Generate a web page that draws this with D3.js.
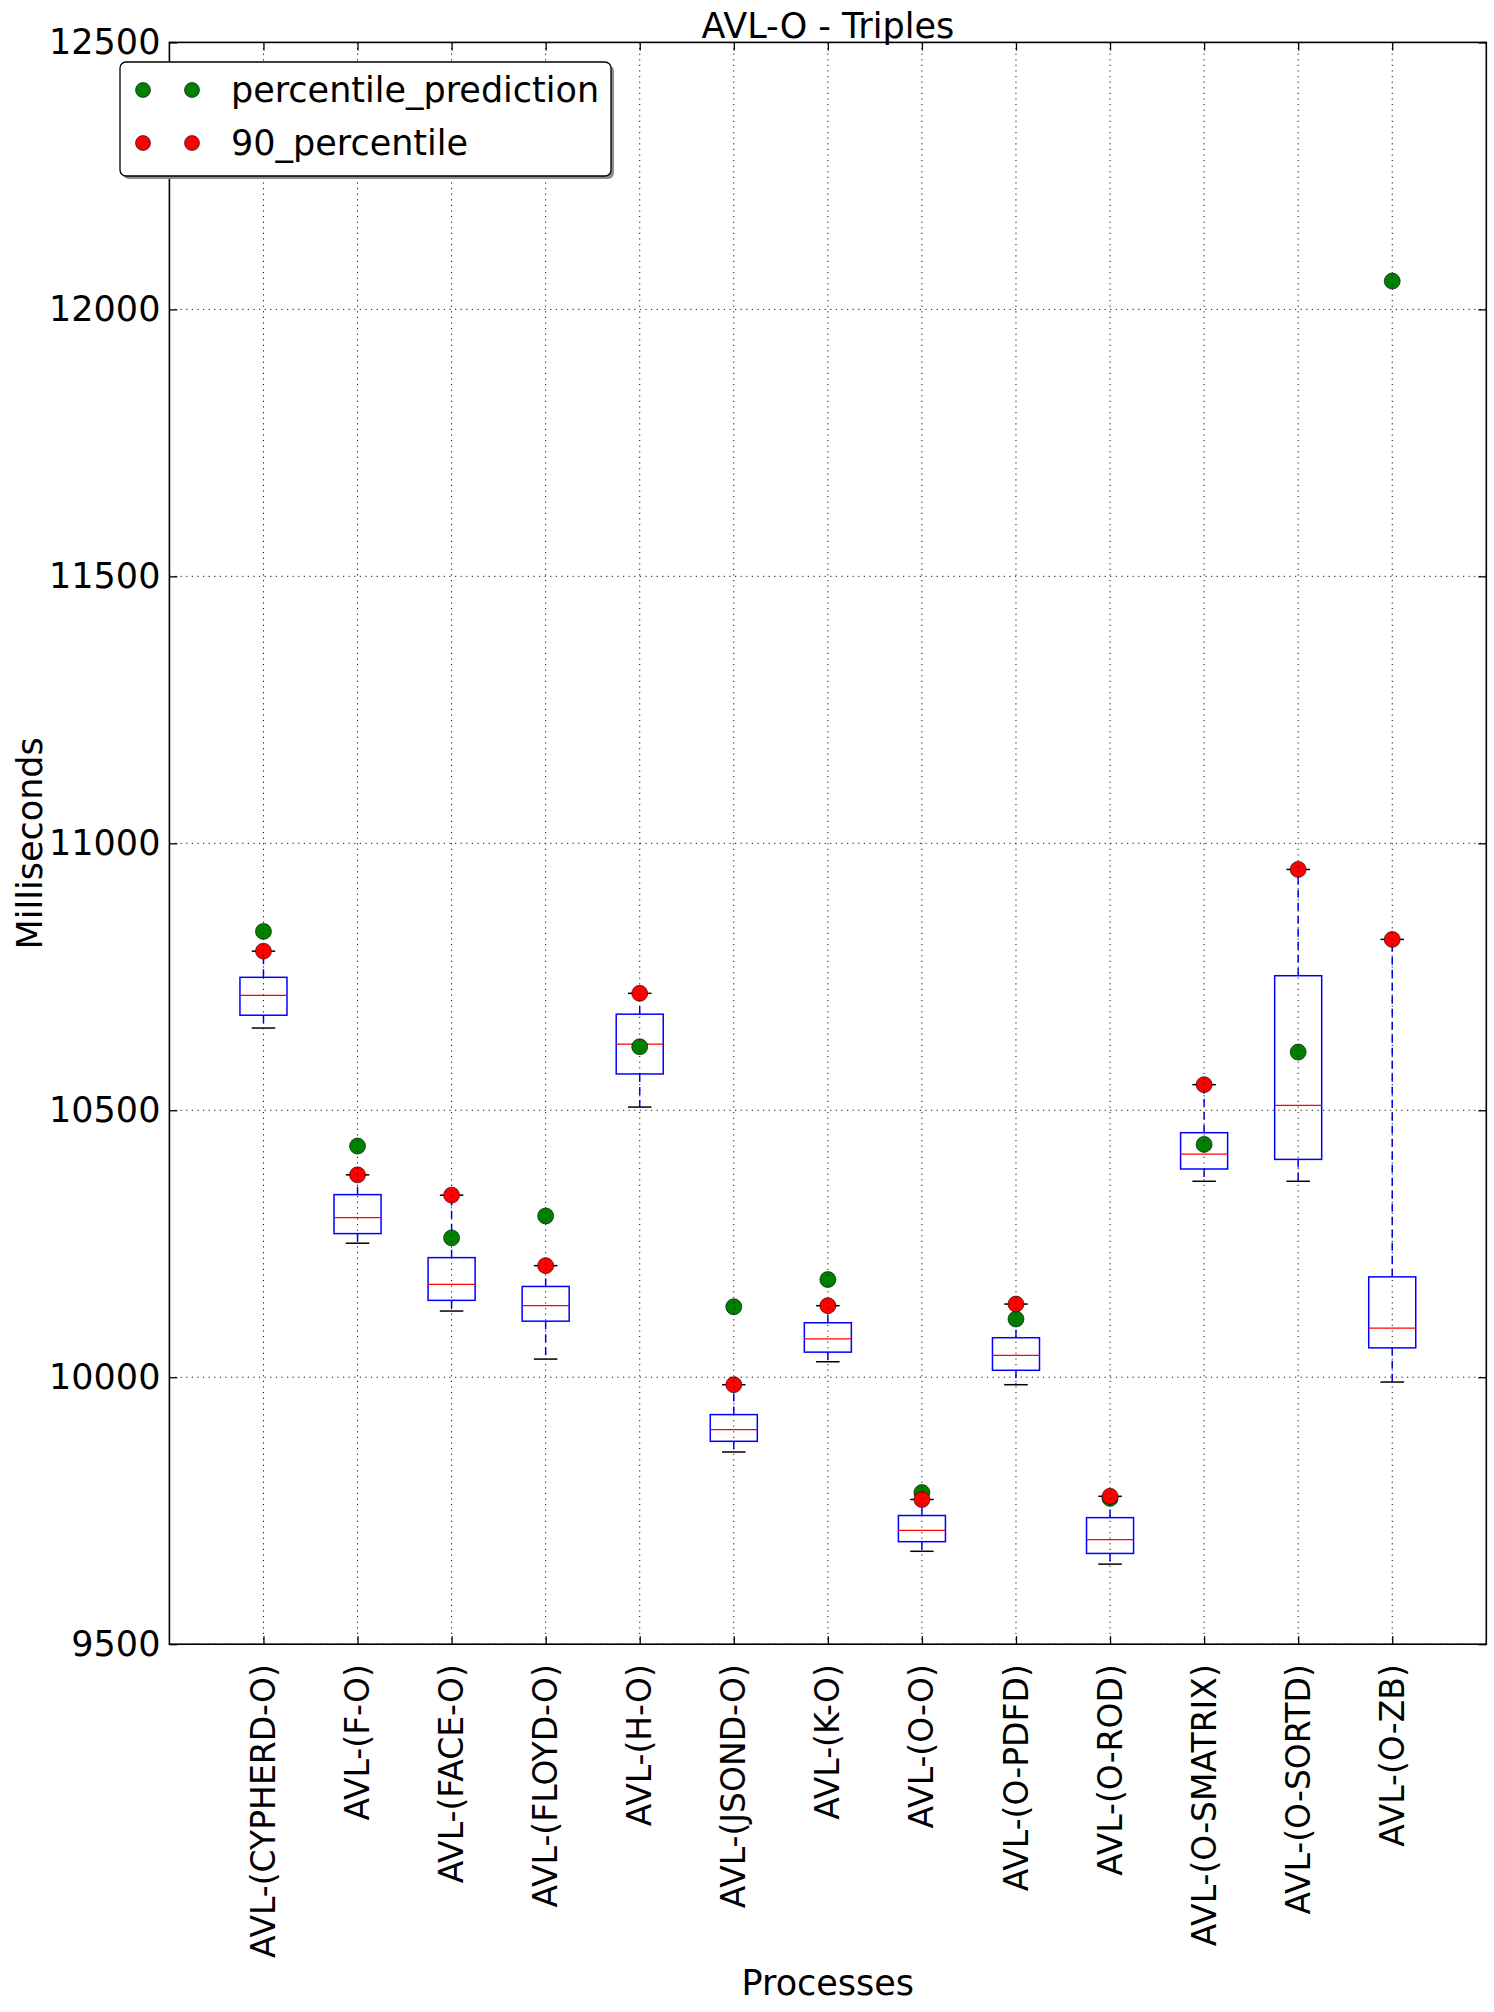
<!DOCTYPE html>
<html>
<head>
<meta charset="utf-8">
<script src="https://cdn.jsdelivr.net/npm/d3@7"></script>
<style>
  body { margin: 0; background: #fff; }
  svg { display: block; font-family: "DejaVu Sans", sans-serif; }
</style>
</head>
<body>
<svg id="chart" width="1494" height="2012"></svg>
<script>
// ---- data ----
const categories = ["AVL-(CYPHERD-O)","AVL-(F-O)","AVL-(FACE-O)","AVL-(FLOYD-O)","AVL-(H-O)","AVL-(JSOND-O)","AVL-(K-O)","AVL-(O-O)","AVL-(O-PDFD)","AVL-(O-ROD)","AVL-(O-SMATRIX)","AVL-(O-SORTD)","AVL-(O-ZB)"];
const whiskerLow  = [10654, 10251, 10124, 10034, 10506, 9860, 10029, 9674, 9986, 9650, 10367, 10367, 9991];
const q1          = [10678, 10269, 10144, 10105, 10568, 9880, 10047, 9692, 10013, 9670, 10390, 10408, 10055];
const median      = [10715, 10299, 10174, 10134, 10624, 9902, 10072, 9713, 10041, 9696, 10418, 10509, 10092];
const q3          = [10749, 10342, 10224, 10170, 10680, 9930, 10102, 9741, 10074, 9737, 10458, 10752, 10188];
const whiskerHigh = [10798, 10379, 10341, 10209, 10719, 9986, 10134, 9771, 10137, 9777, 10548, 10951, 10820];
const percentile90 = [10798, 10379, 10341, 10209, 10719, 9986, 10134, 9771, 10137, 9777, 10548, 10951, 10820];
const percentilePrediction = [10835, 10433, 10261, 10302, 10619, 10132, 10183, 9784, 10109, 9773, 10436, 10609, 12053];
const yTicks = [9500, 10000, 10500, 11000, 11500, 12000, 12500];
const seriesNames = ["percentile_prediction", "90_percentile"];
const title = "AVL-O - Triples";
const xLabel = "Processes";
const yLabel = "Milliseconds";

// ---- layout ----
const L = 169.4, R = 1486.3, T = 42.4, B = 1644.2;
const FS = 35;
const svg = d3.select("#chart");

const x = d3.scaleLinear().domain([0, categories.length + 1]).range([L, R]);
const y = d3.scaleLinear().domain([9500, 12500]).range([B, T]);
const step = x(1) - x(0);
const boxW = step * 0.5, capW = step * 0.25;

const rows = categories.map((c, i) => ({
  c, pos: i + 1, lo: whiskerLow[i], q1: q1[i], med: median[i], q3: q3[i], hi: whiskerHigh[i],
  p90: percentile90[i], pred: percentilePrediction[i]
}));

const plot = svg.append("g");

// boxes
const g = plot.selectAll("g.box").data(rows).join("g").attr("class", "box");
// whiskers
g.append("line").attr("x1", d => x(d.pos)).attr("x2", d => x(d.pos))
  .attr("y1", d => y(d.q1)).attr("y2", d => y(d.lo))
  .attr("stroke", "#0000ff").attr("stroke-width", 1.5).attr("stroke-dasharray", "8,5");
g.append("line").attr("x1", d => x(d.pos)).attr("x2", d => x(d.pos))
  .attr("y1", d => y(d.q3)).attr("y2", d => y(d.hi))
  .attr("stroke", "#0000ff").attr("stroke-width", 1.5).attr("stroke-dasharray", "8,5");
// caps
g.append("line").attr("x1", d => x(d.pos) - capW / 2).attr("x2", d => x(d.pos) + capW / 2)
  .attr("y1", d => y(d.lo)).attr("y2", d => y(d.lo))
  .attr("stroke", "#000").attr("stroke-width", 1.5);
g.append("line").attr("x1", d => x(d.pos) - capW / 2).attr("x2", d => x(d.pos) + capW / 2)
  .attr("y1", d => y(d.hi)).attr("y2", d => y(d.hi))
  .attr("stroke", "#000").attr("stroke-width", 1.5);
// box
g.append("rect").attr("x", d => x(d.pos) - boxW / 2).attr("width", boxW)
  .attr("y", d => y(d.q3)).attr("height", d => y(d.q1) - y(d.q3))
  .attr("fill", "none").attr("stroke", "#0000ff").attr("stroke-width", 1.5);
// median
g.append("line").attr("x1", d => x(d.pos) - boxW / 2).attr("x2", d => x(d.pos) + boxW / 2)
  .attr("y1", d => y(d.med)).attr("y2", d => y(d.med))
  .attr("stroke", "#ff0000").attr("stroke-width", 1.3);

// points
const R_M = 8;
plot.selectAll("circle.pred").data(rows).join("circle").attr("class", "pred")
  .attr("cx", d => x(d.pos)).attr("cy", d => y(d.pred)).attr("r", R_M)
  .attr("fill", "#008000").attr("stroke", "#000").attr("stroke-width", 0.6);
plot.selectAll("circle.p90").data(rows).join("circle").attr("class", "p90")
  .attr("cx", d => x(d.pos)).attr("cy", d => y(d.p90)).attr("r", R_M)
  .attr("fill", "#ff0000").attr("stroke", "#000").attr("stroke-width", 0.6);

// grid (drawn on top, as in the reference)
const grid = svg.append("g");
grid.selectAll("line.gx").data(rows).join("line").attr("class", "gx")
  .attr("x1", d => x(d.pos)).attr("x2", d => x(d.pos)).attr("y1", T).attr("y2", B)
  .attr("stroke", "#111").attr("stroke-width", 1).attr("stroke-dasharray", "1.2,4.4");
grid.selectAll("line.gy").data(yTicks).join("line").attr("class", "gy")
  .attr("x1", L).attr("x2", R).attr("y1", d => y(d)).attr("y2", d => y(d))
  .attr("stroke", "#111").attr("stroke-width", 1).attr("stroke-dasharray", "1.2,4.4");

// axes (ticks inward on all four sides)
const tickLen = 8;
const axL = svg.append("g").attr("transform", `translate(${L},0)`)
  .call(d3.axisLeft(y).tickValues(yTicks).tickSize(-tickLen).tickPadding(9).tickFormat(d3.format("d")));
const axR = svg.append("g").attr("transform", `translate(${R},0)`)
  .call(d3.axisRight(y).tickValues(yTicks).tickSize(-tickLen).tickFormat(""));
const axB = svg.append("g").attr("transform", `translate(0,${B})`)
  .call(d3.axisBottom(x).tickValues(rows.map(d => d.pos)).tickSize(-tickLen).tickFormat(""));
const axT = svg.append("g").attr("transform", `translate(0,${T})`)
  .call(d3.axisTop(x).tickValues(rows.map(d => d.pos)).tickSize(-tickLen).tickFormat(""));
[axL, axR, axB, axT].forEach(a => {
  a.select(".domain").remove();
  a.selectAll(".tick line").attr("stroke", "#000").attr("stroke-width", 1.3);
});
axL.selectAll(".tick text").attr("font-size", FS).attr("font-family", "DejaVu Sans").attr("fill", "#000");

// x tick labels (rotated)
svg.append("g").selectAll("text").data(rows).join("text")
  .attr("transform", d => `translate(${x(d.pos)},${B + 20}) rotate(-90)`)
  .attr("text-anchor", "end").attr("dy", "0.35em")
  .attr("font-size", 33).attr("fill", "#000").text(d => d.c);

// frame
svg.append("rect").attr("x", L).attr("y", T).attr("width", R - L).attr("height", B - T)
  .attr("fill", "none").attr("stroke", "#000").attr("stroke-width", 1.6);

// titles
svg.append("text").attr("x", (L + R) / 2).attr("y", 38).attr("text-anchor", "middle")
  .attr("font-size", FS).attr("fill", "#000").text(title);
svg.append("text").attr("x", (L + R) / 2).attr("y", 1995).attr("text-anchor", "middle")
  .attr("font-size", FS).attr("fill", "#000").text(xLabel);
svg.append("text").attr("transform", `translate(42,${(T + B) / 2}) rotate(-90)`)
  .attr("text-anchor", "middle").attr("font-size", FS).attr("fill", "#000").text(yLabel);

// legend
const lg = svg.append("g");
const lx = 120, ly = 62, lw = 491, lh = 114;
lg.append("rect").attr("x", lx + 3).attr("y", ly + 3).attr("width", lw).attr("height", lh)
  .attr("rx", 6).attr("fill", "#8c8c8c");
lg.append("rect").attr("x", lx).attr("y", ly).attr("width", lw).attr("height", lh)
  .attr("rx", 6).attr("fill", "#fff").attr("stroke", "#000").attr("stroke-width", 1.3);
const legendColors = ["#008000", "#ff0000"];
seriesNames.forEach((name, i) => {
  const cy = ly + 28 + i * 53;
  [143, 192].forEach(cx => {
    lg.append("circle").attr("cx", cx).attr("cy", cy).attr("r", 7.5)
      .attr("fill", legendColors[i]).attr("stroke", "#000").attr("stroke-width", 0.6);
  });
  lg.append("text").attr("x", 231).attr("y", cy).attr("dy", "0.35em")
    .attr("font-size", FS).attr("fill", "#000").text(name);
});
</script>
</body>
</html>
